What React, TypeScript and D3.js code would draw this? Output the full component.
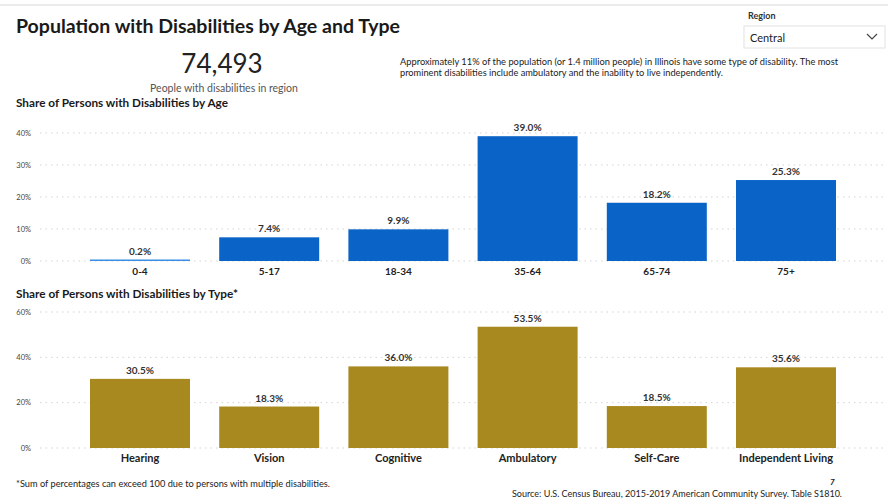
import React from "react";
import * as d3 from "d3";

const ageCategories = ["0-4", "5-17", "18-34", "35-64", "65-74", "75+"];
const ageValues = [0.2, 7.4, 9.9, 39.0, 18.2, 25.3];
const ageTicks = [0, 10, 20, 30, 40];

const typeCategories = ["Hearing", "Vision", "Cognitive", "Ambulatory", "Self-Care", "Independent Living"];
const typeValues = [30.5, 18.3, 36.0, 53.5, 18.5, 35.6];
const typeTicks = [0, 20, 40, 60];

const FONT = "Lato, 'Open Sans', sans-serif";
const BLUE = "#0a63c6";
const GOLD = "#a8891f";

function BarPanel({ cats, vals, ticks, yRange, domain, color, labelSize, bandRange }: any) {
  const x = d3.scaleBand<string>().domain(cats).range(bandRange).paddingInner(0.226).paddingOuter(0.113);
  const y = d3.scaleLinear().domain(domain).range(yRange);
  return (
    <g>
      {ticks.map((t: number) => (
        <g key={t}>
          <line x1={40} x2={885} y1={y(t)} y2={y(t)} stroke="#c8c8c8" strokeWidth={0.8} strokeDasharray="1.5,4" />
          <text x={31} y={y(t)} dy="0.35em" textAnchor="end" fontSize={7.5} fill="#444" fontFamily={FONT}>{t}%</text>
        </g>
      ))}
      {cats.map((c: string, i: number) => {
        const v = vals[i];
        const h = Math.max(y(0) - y(v), 1.5);
        return (
          <g key={c}>
            <rect x={x(c)} y={y(0) - h} width={x.bandwidth()} height={h} fill={v < 1 ? "#3a8ee6" : color} />
            <text x={(x(c) as number) + x.bandwidth() / 2} y={y(v) - 5} textAnchor="middle" fontSize={10} fontWeight={700} fill="#333" fontFamily={FONT}>
              {v.toFixed(1)}%
            </text>
            <text x={(x(c) as number) + x.bandwidth() / 2} y={y(0) + 14} textAnchor="middle" fontSize={labelSize} fontWeight={700} fill="#222" fontFamily={FONT}>
              {c}
            </text>
          </g>
        );
      })}
    </g>
  );
}

export default function App() {
  return (
    <div style={{ position: "absolute", left: 0, top: 0 }}>
      <svg width={888} height={504} style={{ display: "block", background: "#fff" }}>
        <line x1={0} x2={888} y1={5} y2={5} stroke="#d8d8d8" strokeWidth={1} />
        <text x={16} y={33} fontSize={18.5} fontWeight={700} fill="#1a1a1a" fontFamily={FONT} textLength={384} lengthAdjust="spacingAndGlyphs">
          Population with Disabilities by Age and Type
        </text>
        <text x={222} y={73} textAnchor="middle" fontSize={26} fill="#222" fontFamily={FONT}>74,493</text>
        <text x={224} y={92} textAnchor="middle" fontSize={10.5} fill="#555" fontFamily={FONT}>People with disabilities in region</text>
        <text x={16} y={107} fontSize={11} fontWeight={700} fill="#1a1a1a" fontFamily={FONT} textLength={212} lengthAdjust="spacingAndGlyphs">
          Share of Persons with Disabilities by Age
        </text>

        <text x={400} y={65} fontSize={8.5} fill="#222" fontFamily={FONT} textLength={438} lengthAdjust="spacingAndGlyphs">
          Approximately 11% of the population (or 1.4 million people) in Illinois have some type of disability.  The most
        </text>
        <text x={400} y={76} fontSize={8.5} fill="#222" fontFamily={FONT} textLength={323} lengthAdjust="spacingAndGlyphs">
          prominent disabilities include ambulatory and the inability to live independently.
        </text>

        <text x={748} y={19} fontSize={9} fontWeight={700} fill="#333" fontFamily={FONT}>Region</text>
        <rect x={744} y={26} width={141} height={22} fill="#fff" stroke="#e2e2e2" strokeWidth={1} />
        <text x={750} y={42} fontSize={11} fill="#222" fontFamily={FONT}>Central</text>
        <path d="M867,34 L872,39 L877,34" fill="none" stroke="#444" strokeWidth={1.2} />

        <BarPanel cats={ageCategories} vals={ageValues} ticks={ageTicks} domain={[0, 40]} yRange={[261, 133]} color={BLUE} labelSize={10} bandRange={[75.4, 850.6]} />

        <text x={16} y={298} fontSize={11} fontWeight={700} fill="#1a1a1a" fontFamily={FONT} textLength={222} lengthAdjust="spacingAndGlyphs">
          Share of Persons with Disabilities by Type*
        </text>

        <BarPanel cats={typeCategories} vals={typeValues} ticks={typeTicks} domain={[0, 60]} yRange={[448, 312]} color={GOLD} labelSize={11} bandRange={[75.4, 850.6]} />

        <text x={16} y={487} fontSize={8.5} fill="#222" fontFamily={FONT} textLength={314} lengthAdjust="spacingAndGlyphs">
          *Sum of percentages can exceed 100 due to persons with multiple disabilities.
        </text>
        <text x={830} y={485} fontSize={8} fontWeight={700} fontStyle="italic" fill="#222" fontFamily={FONT}>7</text>
        <text x={512} y={497} fontSize={8.5} fill="#222" fontFamily={FONT} textLength={330} lengthAdjust="spacingAndGlyphs">
          Source: U.S. Census Bureau, 2015-2019 American Community Survey. Table S1810.
        </text>
      </svg>
    </div>
  );
}
